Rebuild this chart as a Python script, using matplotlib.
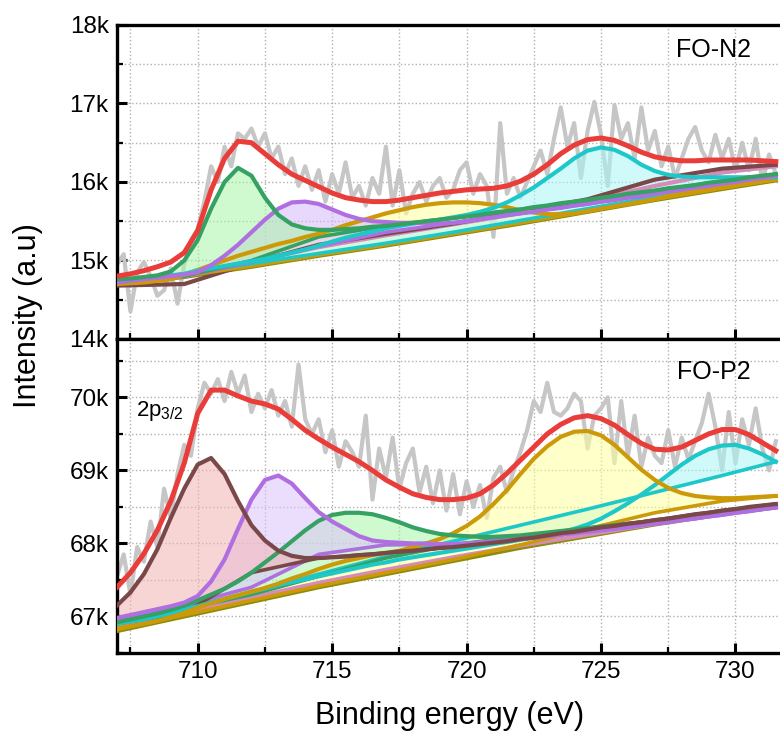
import numpy as np
import matplotlib
matplotlib.use("Agg")
import matplotlib.pyplot as plt
from matplotlib.ticker import MultipleLocator, FuncFormatter

plt.rcParams['font.family'] = ['Liberation Sans', 'DejaVu Sans']
plt.rcParams['mathtext.fontset'] = 'custom'
plt.rcParams['mathtext.rm'] = 'Liberation Sans'
plt.rcParams['mathtext.default'] = 'regular'

# energy grids (eV)
x_raw = np.arange(707.0, 731.51, 0.25)
x_fit = np.arange(707.0, 731.51, 0.5)
x_bg = np.array([707, 709.5, 712, 714.5, 717, 719.5, 722, 724.5, 727, 729.5, 731.5])

# ---------------- FO-N2 (intensity in k counts) ----------------
n2_raw = [14.95, 15.08, 14.35, 14.85, 14.98, 14.80, 14.55, 14.62, 14.90, 14.45,
          14.95, 15.25, 15.40, 15.75, 16.20, 16.00, 16.45, 16.20, 16.62, 16.55,
          16.68, 16.45, 16.62, 16.30, 16.45, 16.10, 16.30, 15.95, 16.20, 15.90,
          16.15, 15.75, 16.10, 15.85, 16.25, 15.80, 15.95, 15.70, 16.05, 15.85,
          16.45, 15.70, 16.15, 15.60, 15.85, 16.00, 15.75, 15.95, 16.05, 15.80,
          15.90, 16.15, 16.25, 15.85, 16.10, 15.95, 15.30, 16.75, 15.85, 16.05,
          15.80, 16.00, 16.20, 16.40, 16.10, 16.55, 16.95, 16.45, 16.75, 16.05,
          16.65, 17.02, 16.60, 15.95, 16.98, 16.55, 16.75, 16.30, 16.95, 16.40,
          16.65, 16.20, 16.45, 16.05, 16.30, 16.55, 16.70, 16.40, 16.25, 16.60,
          16.30, 16.55, 16.15, 16.50, 16.15, 16.55, 16.00, 16.35, 16.10]
n2_env = [14.80, 14.83, 14.87, 14.92, 14.98, 15.10, 15.38, 15.90, 16.30, 16.52,
          16.50, 16.36, 16.22, 16.10, 16.02, 15.94, 15.86, 15.80, 15.77, 15.75,
          15.75, 15.77, 15.80, 15.83, 15.86, 15.88, 15.90, 15.91, 15.92, 15.95,
          16.01, 16.10, 16.22, 16.36, 16.47, 16.54, 16.56, 16.53, 16.46, 16.38,
          16.32, 16.29, 16.27, 16.27, 16.28, 16.28, 16.28, 16.28, 16.27, 16.26]
n2_green = [14.76, 14.77, 14.79, 14.81, 14.86, 15.00, 15.26, 15.66, 16.00, 16.18,
            16.08, 15.80, 15.58, 15.46, 15.41, 15.39, 15.39, 15.40, 15.41, 15.43,
            15.44, 15.46, 15.48, 15.50, 15.52, 15.54, 15.56, 15.58, 15.61, 15.63,
            15.65, 15.68, 15.70, 15.73, 15.75, 15.77, 15.80, 15.82, 15.85, 15.87,
            15.89, 15.92, 15.94, 15.96, 15.99, 16.01, 16.03, 16.06, 16.08, 16.10]
n2_green_bg = [14.75, 14.80, 15.00, 15.30, 15.44, 15.54, 15.65, 15.77, 15.89, 16.01, 16.10]
n2_purple = [14.72, 14.74, 14.76, 14.78, 14.80, 14.82, 14.85, 14.94, 15.06, 15.20,
             15.36, 15.52, 15.66, 15.74, 15.75, 15.72, 15.65, 15.58, 15.53, 15.50,
             15.49, 15.48, 15.48, 15.48, 15.47, 15.48, 15.50, 15.53, 15.55, 15.58,
             15.60, 15.62, 15.65, 15.67, 15.70, 15.72, 15.75, 15.77, 15.80, 15.82,
             15.85, 15.88, 15.90, 15.93, 15.95, 15.98, 16.00, 16.03, 16.05, 16.08]
n2_purple_bg = [14.72, 14.80, 14.98, 15.18, 15.36, 15.48, 15.60, 15.72, 15.85, 15.98, 16.08]
n2_gold = [14.70, 14.71, 14.72, 14.74, 14.76, 14.82, 14.88, 14.94, 15.00, 15.06,
           15.11, 15.16, 15.21, 15.25, 15.30, 15.34, 15.39, 15.45, 15.50, 15.55,
           15.60, 15.64, 15.68, 15.71, 15.73, 15.74, 15.74, 15.73, 15.71, 15.68,
           15.64, 15.61, 15.59, 15.59, 15.60, 15.63, 15.66, 15.69, 15.72, 15.75,
           15.78, 15.82, 15.85, 15.88, 15.91, 15.93, 15.96, 15.99, 16.01, 16.03]
n2_gold_bg = [14.70, 14.80, 14.93, 15.07, 15.20, 15.34, 15.48, 15.63, 15.78, 15.92, 16.03]
n2_cyan = [14.73, 14.75, 14.77, 14.79, 14.81, 14.83, 14.87, 14.90, 14.93, 14.96,
           14.99, 15.02, 15.06, 15.10, 15.14, 15.19, 15.24, 15.29, 15.33, 15.37,
           15.41, 15.44, 15.47, 15.50, 15.52, 15.55, 15.58, 15.62, 15.67, 15.74,
           15.83, 15.93, 16.05, 16.17, 16.30, 16.40, 16.44, 16.41, 16.33, 16.22,
           16.14, 16.09, 16.07, 16.06, 16.06, 16.06, 16.06, 16.06, 16.06, 16.06]
n2_cyan_bg = [14.72, 14.83, 14.96, 15.09, 15.22, 15.36, 15.51, 15.66, 15.81, 15.95, 16.05]
n2_brown = [14.68, 14.70, 14.97, 15.20, 15.34, 15.47, 15.62, 15.78, 16.03, 16.17, 16.22]
n2_pink = [14.74, 14.80, 14.98, 15.17, 15.32, 15.46, 15.60, 15.76, 15.95, 16.12, 16.20]
n2_olive = [14.70, 14.79, 14.92, 15.06, 15.19, 15.33, 15.47, 15.62, 15.77, 15.91, 16.02]

# ---------------- FO-P2 (intensity in k counts) ----------------
p2_raw = [67.55, 67.85, 67.30, 67.95, 67.75, 68.30, 67.95, 68.75, 68.35, 68.95,
          69.35, 69.20, 69.85, 70.20, 70.05, 70.25, 69.95, 70.35, 70.05, 70.30,
          69.80, 70.05, 69.85, 70.10, 69.75, 69.95, 69.60, 70.45, 69.70, 69.50,
          69.70, 69.25, 69.55, 69.05, 69.40, 69.25, 69.05, 69.75, 68.60, 69.30,
          68.90, 69.45, 68.75, 69.10, 69.30, 68.70, 69.05, 68.55, 69.00, 68.45,
          68.95, 68.40, 68.85, 68.50, 68.80, 68.35, 68.90, 69.05, 68.70, 69.00,
          69.25, 69.55, 69.95, 69.80, 70.20, 69.80, 69.75, 69.85, 70.05, 69.95,
          69.30, 69.75, 69.85, 70.00, 69.10, 69.95, 69.20, 69.75, 69.05, 69.45,
          69.20, 69.10, 69.55, 69.05, 69.45, 69.15, 69.40, 69.65, 70.05, 69.60,
          69.00, 69.80, 69.10, 69.70, 69.35, 69.85, 69.30, 69.00, 69.40]
p2_env = [67.40, 67.60, 67.86, 68.18, 68.58, 69.10, 69.78, 70.10, 70.10, 70.02,
          69.95, 69.91, 69.84, 69.70, 69.55, 69.43, 69.32, 69.22, 69.12, 69.00,
          68.87, 68.77, 68.68, 68.63, 68.60, 68.60, 68.62, 68.68, 68.80, 68.96,
          69.14, 69.32, 69.50, 69.63, 69.72, 69.75, 69.71, 69.62, 69.49, 69.37,
          69.29, 69.28, 69.32, 69.41, 69.50, 69.56, 69.56, 69.49, 69.38, 69.27]
p2_brown = [67.15, 67.33, 67.58, 67.92, 68.35, 68.75, 69.08, 69.17, 68.95, 68.58,
            68.25, 68.04, 67.90, 67.83, 67.80, 67.80, 67.81, 67.82, 67.84, 67.85,
            67.87, 67.89, 67.90, 67.92, 67.94, 67.95, 67.97, 67.99, 68.01, 68.03,
            68.06, 68.08, 68.11, 68.14, 68.16, 68.19, 68.22, 68.24, 68.27, 68.29,
            68.32, 68.34, 68.37, 68.40, 68.42, 68.45, 68.47, 68.50, 68.52, 68.54]
p2_brown_bg = [66.90, 67.05, 67.60, 67.80, 67.87, 67.95, 68.06, 68.19, 68.32, 68.45, 68.54]
p2_purple = [66.98, 67.02, 67.06, 67.10, 67.14, 67.19, 67.28, 67.48, 67.78, 68.20,
             68.60, 68.87, 68.93, 68.82, 68.62, 68.43, 68.30, 68.20, 68.10, 68.04,
             68.02, 68.01, 68.00, 68.00, 67.99, 67.99, 68.00, 68.01, 68.02, 68.04,
             68.06, 68.08, 68.10, 68.12, 68.14, 68.16, 68.18, 68.20, 68.22, 68.25,
             68.27, 68.29, 68.32, 68.34, 68.37, 68.39, 68.42, 68.44, 68.47, 68.49]
p2_purple_bg = [66.96, 67.15, 67.40, 67.85, 67.98, 67.99, 68.06, 68.16, 68.27, 68.39, 68.49]
p2_green = [66.92, 66.96, 67.00, 67.04, 67.09, 67.15, 67.22, 67.30, 67.38, 67.48,
            67.60, 67.74, 67.88, 68.03, 68.18, 68.31, 68.39, 68.42, 68.42, 68.40,
            68.35, 68.29, 68.22, 68.17, 68.13, 68.11, 68.10, 68.09, 68.09, 68.10,
            68.11, 68.13, 68.15, 68.17, 68.19, 68.21, 68.23, 68.25, 68.27, 68.29,
            68.31, 68.33, 68.35, 68.37, 68.39, 68.41, 68.43, 68.45, 68.47, 68.50]
p2_green_bg = [66.90, 67.10, 67.30, 67.55, 67.80, 67.98, 68.10, 68.21, 68.31, 68.41, 68.50]
p2_gold = [66.84, 66.87, 66.90, 66.94, 66.99, 67.05, 67.12, 67.18, 67.24, 67.29,
           67.34, 67.39, 67.45, 67.52, 67.58, 67.65, 67.71, 67.76, 67.80, 67.84,
           67.87, 67.90, 67.95, 68.00, 68.06, 68.14, 68.24, 68.37, 68.54, 68.73,
           68.95, 69.16, 69.33, 69.46, 69.53, 69.54, 69.48, 69.35, 69.18, 69.01,
           68.87, 68.76, 68.69, 68.65, 68.63, 68.62, 68.62, 68.63, 68.64, 68.65]
p2_gold_bg = [66.82, 67.02, 67.22, 67.42, 67.60, 67.78, 67.98, 68.20, 68.42, 68.58, 68.65]
p2_cyan = [66.90, 66.93, 66.96, 67.00, 67.04, 67.09, 67.14, 67.19, 67.24, 67.29,
           67.34, 67.38, 67.43, 67.47, 67.51, 67.55, 67.59, 67.63, 67.67, 67.71,
           67.74, 67.78, 67.81, 67.84, 67.87, 67.90, 67.93, 67.96, 67.99, 68.02,
           68.05, 68.08, 68.11, 68.15, 68.20, 68.26, 68.34, 68.44, 68.55, 68.67,
           68.80, 68.94, 69.08, 69.20, 69.29, 69.34, 69.35, 69.30, 69.22, 69.12]
p2_cyan_bg = [66.92, 67.12, 67.33, 67.58, 67.82, 68.03, 68.25, 68.47, 68.70, 68.93, 69.12]
p2_olive = [66.80, 67.00, 67.20, 67.40, 67.58, 67.76, 67.94, 68.10, 68.26, 68.40, 68.52]
p2_pink = [66.86, 67.05, 67.26, 67.46, 67.64, 67.81, 67.97, 68.12, 68.27, 68.41, 68.52]

# colours
RED = '#ea3d3a'
GREEN = '#35a163'
PURPLE = '#b06fe0'
GOLD = '#cc9a08'
CYAN = '#1ec8c8'
BROWN = '#7a4848'
OLIVE = '#8c8c0a'
PINK = '#d58cb8'


def draw_panel(ax, raw, env, comps, extras):
    ax.plot(x_raw, raw, color='#c6c6c6', lw=3.0, zorder=1)
    for curve, bg, lc, fc in comps:
        ax.fill(np.r_[x_fit, x_bg[::-1]], np.r_[curve, bg[::-1]],
                color=fc, alpha=0.55, lw=0, zorder=2)
    for vals, c in extras:
        ax.plot(x_bg, vals, color=c, lw=3.0, zorder=3)
    for curve, bg, lc, fc in comps:
        ax.plot(x_bg, bg, color=lc, lw=2.6, zorder=3)
    for curve, bg, lc, fc in comps:
        ax.plot(x_fit, curve, color=lc, lw=3.0, zorder=4)
    ax.plot(x_fit, env, color=RED, lw=3.6, zorder=5)

    ax.set_xlim(707, 731.8)
    ax.xaxis.set_major_locator(MultipleLocator(5))
    ax.xaxis.set_minor_locator(MultipleLocator(2.5))
    ax.yaxis.set_major_locator(MultipleLocator(1))
    ax.yaxis.set_minor_locator(MultipleLocator(0.5))
    ax.yaxis.set_major_formatter(FuncFormatter(lambda v, p: f"{v:g}k"))
    ax.grid(True, which='both', ls=':', color='#b0b0b0', lw=1.0)
    ax.set_axisbelow(True)
    ax.tick_params(which='both', direction='in', top=False, right=False,
                   labelsize=17.5, pad=6)
    ax.tick_params(which='major', length=7, width=2.2)
    ax.tick_params(which='minor', length=4, width=1.6)
    for s in ax.spines.values():
        s.set_linewidth(2.4)


fig = plt.figure(figsize=(7.8, 7.35), dpi=100)
ax1 = fig.add_axes([0.15, 0.5388, 0.855, 0.4272])
ax2 = fig.add_axes([0.15, 0.1116, 0.855, 0.4272])

draw_panel(ax1, n2_raw, n2_env,
           [(n2_gold, n2_gold_bg, GOLD, '#ffff9e'),
            (n2_cyan, n2_cyan_bg, CYAN, '#aaf6f6'),
            (n2_purple, n2_purple_bg, PURPLE, '#d6b8fa'),
            (n2_green, n2_green_bg, GREEN, '#a8f5a8')],
           [(n2_olive, OLIVE), (n2_pink, PINK), (n2_brown, BROWN)])
ax1.set_ylim(14, 18)
ax1.tick_params(labelbottom=False)
ax1.text(729.2, 17.68, 'FO-N2', fontsize=18, ha='center', va='center')

draw_panel(ax2, p2_raw, p2_env,
           [(p2_cyan, p2_cyan_bg, CYAN, '#aaf6f6'),
            (p2_gold, p2_gold_bg, GOLD, '#ffff9e'),
            (p2_green, p2_green_bg, GREEN, '#a8f5a8'),
            (p2_purple, p2_purple_bg, PURPLE, '#dcc4fb'),
            (p2_brown, p2_brown_bg, BROWN, '#f2b4b4')],
           [(p2_olive, OLIVE), (p2_pink, PINK)])
ax2.set_ylim(66.5, 70.8)
ax2.text(729.2, 70.35, 'FO-P2', fontsize=18, ha='center', va='center')
ax2.text(707.7, 69.82, '2p$_{3/2}$', fontsize=16, ha='left', va='center')

fig.text(0.036, 0.57, 'Intensity (a.u)', rotation=90, fontsize=22,
         ha='center', va='center')
fig.text(0.576, 0.026, 'Binding energy (eV)', fontsize=22,
         ha='center', va='center')

fig.savefig('out.png', dpi=100)
